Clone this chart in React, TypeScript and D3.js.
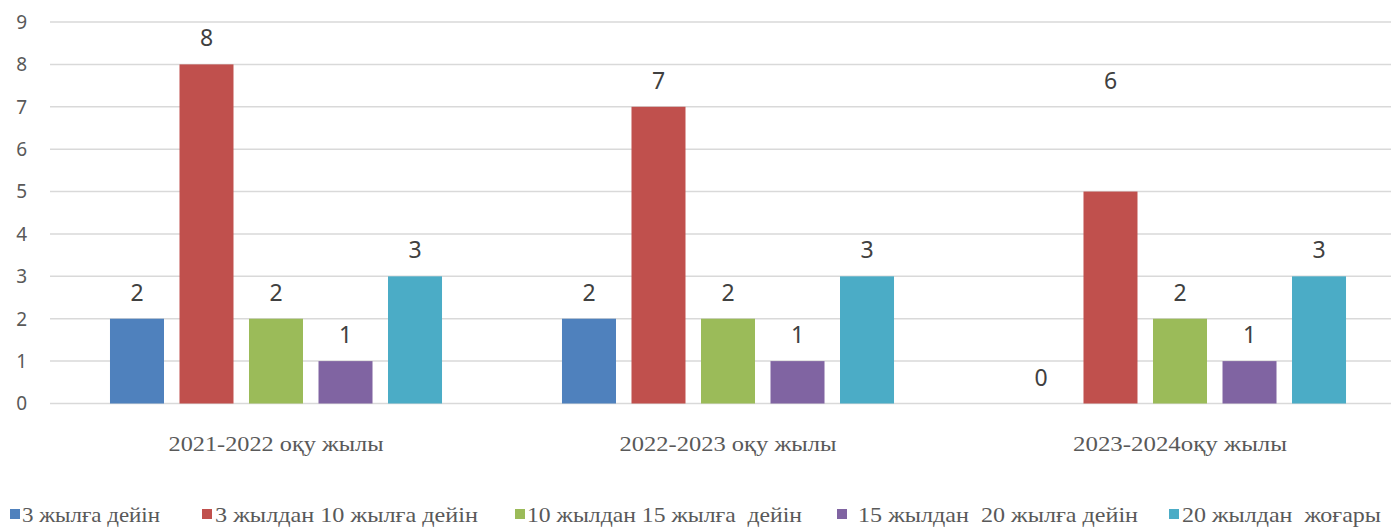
import * as d3 from 'd3';

const categories = ['2021-2022 оқу жылы', '2022-2023 оқу жылы', '2023-2024оқу жылы'];
const seriesNames = [
    '3 жылға дейін',
    '3 жылдан 10 жылға дейін',
    '10 жылдан 15 жылға  дейін',
    '15 жылдан  20 жылға дейін',
    '20 жылдан  жоғары',
];
const colors = ['#4f81bd', '#c0504d', '#9bbb59', '#8064a2', '#4bacc6'];

// bar heights per category, in series order
const values2021 = [2, 8, 2, 1, 3];
const values2022 = [2, 7, 2, 1, 3];
const values2023 = [0, 5, 2, 1, 3];
// the printed labels (2023-2024 red label says 6 over a bar of 5)
const labels2021 = ['2', '8', '2', '1', '3'];
const labels2022 = ['2', '7', '2', '1', '3'];
const labels2023 = ['0', '6', '2', '1', '3'];
// level the label sits on (the "6" sits at the same height as the "7")
const labelLevel2023 = [0, 7, 2, 1, 3];

const yTicks = [0, 1, 2, 3, 4, 5, 6, 7, 8, 9];

const width = 1391;
const height = 527;
const margin = { top: 22, left: 50, bottom: 123.5 };

const legendLeft = [10, 202, 515, 837, 1169];
const legendTextGap = [12, 13, 12, 21, 13];
const legendTextWidth = [138, 263, 275, 280, 199];
const categoryLabelWidth = [215, 217, 214];

export default function App() {
    const valuesByCat = [values2021, values2022, values2023];
    const labelsByCat = [labels2021, labels2022, labels2023];
    const levelsByCat = [values2021, values2022, labelLevel2023];

    const x0 = d3.scaleBand<string>()
        .domain(categories)
        .range([margin.left, margin.left + 452 * 3])
        .padding(0);

    const x1 = d3.scaleBand<string>()
        .domain(seriesNames)
        .range([0, x0.bandwidth()])
        .paddingInner(0.223)
        .paddingOuter(0.863);

    const y = d3.scaleLinear()
        .domain([0, 9])
        .range([height - margin.bottom, margin.top]);

    const serif = '"Liberation Serif", "Times New Roman", serif';
    const sans = '"Noto Sans", "Open Sans", sans-serif';

    return (
        <svg
            width={width}
            height={height}
            style={{ position: 'fixed', left: 0, top: 0, background: '#fff' }}
        >
            <rect width={width} height={height} fill="#fff" />
            <g>
                {yTicks.map(t => (
                    <g key={t}>
                        <line
                            x1={margin.left}
                            x2={width}
                            y1={y(t)}
                            y2={y(t)}
                            stroke="#d9d9d9"
                            strokeWidth={1.5}
                        />
                        <text
                            x={27}
                            y={y(t)}
                            dy="0.36em"
                            textAnchor="end"
                            fontFamily={sans}
                            fontSize={19}
                            fill="#595959"
                        >
                            {t}
                        </text>
                    </g>
                ))}
            </g>

            {categories.map((cat, ci) => (
                <g key={cat} transform={`translate(${x0(cat)},0)`}>
                    {seriesNames.map((s, si) => {
                        const v = valuesByCat[ci][si];
                        return (
                            <g key={s}>
                                {v > 0 && (
                                    <rect
                                        x={x1(s)}
                                        y={y(v)}
                                        width={x1.bandwidth()}
                                        height={y(0) - y(v)}
                                        fill={colors[si]}
                                    />
                                )}
                                <text
                                    x={x1(s)! + x1.bandwidth() / 2}
                                    y={y(levelsByCat[ci][si]) - 18}
                                    textAnchor="middle"
                                    fontFamily={sans}
                                    fontSize={23}
                                    fill="#404040"
                                >
                                    {labelsByCat[ci][si]}
                                </text>
                            </g>
                        );
                    })}
                    <text
                        x={x0.bandwidth() / 2 - categoryLabelWidth[ci] / 2}
                        y={451}
                        fontFamily={serif}
                        fontSize={22}
                        fill="#595959"
                        textLength={categoryLabelWidth[ci]}
                        lengthAdjust="spacingAndGlyphs"
                    >
                        {cat}
                    </text>
                </g>
            ))}

            <g>
                {seriesNames.map((s, si) => (
                    <g key={s}>
                        <rect
                            x={legendLeft[si]}
                            y={509}
                            width={10}
                            height={10}
                            fill={colors[si]}
                        />
                        <text
                            x={legendLeft[si] + legendTextGap[si]}
                            y={522}
                            fontFamily={serif}
                            fontSize={22}
                            fill="#595959"
                            textLength={legendTextWidth[si]}
                            lengthAdjust="spacingAndGlyphs"
                            style={{ whiteSpace: 'pre' }}
                        >
                            {s}
                        </text>
                    </g>
                ))}
            </g>
        </svg>
    );
}
